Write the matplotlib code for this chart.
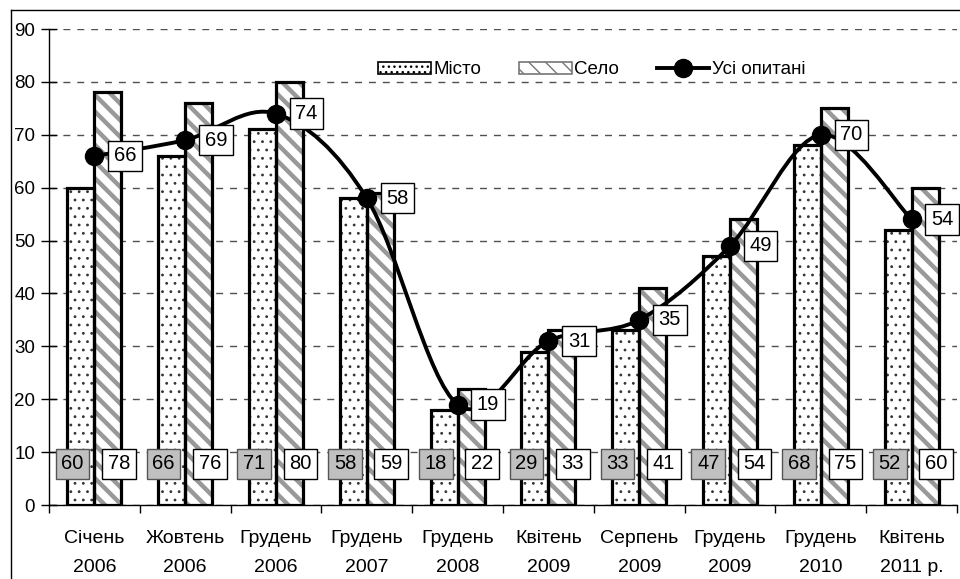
import numpy as np
import matplotlib
matplotlib.use("Agg")
from matplotlib import pyplot as plt
from matplotlib.path import Path
from matplotlib.patches import PathPatch, Patch
from matplotlib.lines import Line2D

plt.rcParams['font.family'] = ['Liberation Sans', 'DejaVu Sans']

# data
categories = ['Січень\n2006', 'Жовтень\n2006', 'Грудень\n2006', 'Грудень\n2007',
              'Грудень\n2008', 'Квітень\n2009', 'Серпень\n2009', 'Грудень\n2009',
              'Грудень\n2010', 'Квітень\n2011 р.']
misto = [60, 66, 71, 58, 18, 29, 33, 47, 68, 52]
selo = [78, 76, 80, 59, 22, 33, 41, 54, 75, 60]
usi = [66, 69, 74, 58, 19, 31, 35, 49, 70, 54]
y_ticks = list(range(0, 100, 10))


def smooth_path(xs, ys):
    """Bezier path through the points, catmull-rom style control points."""
    pts = np.column_stack([xs, ys]).astype(float)
    verts = [pts[0]]
    codes = [Path.MOVETO]
    n = len(pts)
    for i in range(n - 1):
        p0 = pts[i - 1] if i > 0 else pts[i]
        p1, p2 = pts[i], pts[i + 1]
        p3 = pts[i + 2] if i + 2 < n else pts[i + 1]
        c1 = p1 + (p2 - p0) / 6
        c2 = p2 - (p3 - p1) / 6
        verts += [c1, c2, p2]
        codes += [Path.CURVE4] * 3
    return Path(verts, codes)


def hatched_bars(ax, x, h, width, hatch, hcolor, hlw):
    with plt.rc_context({'hatch.linewidth': hlw}):
        bars = ax.bar(x, h, width=width, align='edge', color='white', edgecolor=hcolor,
                      hatch=hatch, lw=0, zorder=2)
    for b in bars:
        if hasattr(b, 'set_hatch_linewidth'):
            b.set_hatch_linewidth(hlw)
    ax.bar(x, h, width=width, align='edge', fill=False, edgecolor='black', lw=2.3, zorder=3)


fig = plt.figure(figsize=(9.6, 5.79), dpi=100)
ax = fig.add_axes([49 / 960, 1 - 505 / 579, 908 / 960, 476 / 579])

x = np.arange(len(categories))
w = 0.297

ax.set_axisbelow(True)
ax.yaxis.grid(True, color='#505050', lw=1, linestyle=(0, (5, 5)))

hatched_bars(ax, x, misto, -w, '..', '#333333', 0.8)
hatched_bars(ax, x, selo, w, '\\\\', '#999999', 3.2)

# smooth line for all respondents
ax.add_patch(PathPatch(smooth_path(x, usi), fill=False, edgecolor='black', lw=2.8, zorder=4))
ax.plot(x, usi, 'o', color='black', ms=13, zorder=5)

box_w = dict(boxstyle='square,pad=0.28', fc='white', ec='black', lw=1)
box_g = dict(boxstyle='square,pad=0.28', fc='#c0c0c0', ec='#555555', lw=1)
for i in range(len(categories)):
    ax.annotate(str(usi[i]), (x[i], usi[i]), xytext=(22, 0), textcoords='offset points',
                ha='center', va='center', fontsize=14.5, bbox=box_w, zorder=6)
    ax.annotate(str(misto[i]), (x[i] - 0.24, 7.8), ha='center', va='center',
                fontsize=14.5, bbox=box_g, zorder=6)
    ax.annotate(str(selo[i]), (x[i] + 0.27, 7.8), ha='center', va='center',
                fontsize=14.5, bbox=box_w, zorder=6)

ax.set_xlim(-0.5, len(categories) - 0.5)
ax.set_ylim(0, 90)
ax.set_yticks(y_ticks)
ax.set_yticklabels([str(v) for v in y_ticks], fontsize=13.5)
ax.set_xticks(np.arange(len(categories) + 1) - 0.5)
ax.set_xticklabels([])
ax.set_xticks(x, minor=True)
ax.set_xticklabels(categories, minor=True, fontsize=14, linespacing=1.95)
ax.tick_params(axis='x', which='major', length=6, width=1, direction='out')
ax.tick_params(axis='x', which='minor', length=0, pad=18)
ax.tick_params(axis='y', length=12, width=1, direction='inout', pad=4)
for s in ['top', 'right']:
    ax.spines[s].set_visible(False)
ax.spines['left'].set_linewidth(1)
ax.spines['bottom'].set_linewidth(1)

# legend
h1 = Patch(facecolor='white', edgecolor='black', hatch='...', lw=1.2)
h2 = Patch(facecolor='white', edgecolor='#777777', hatch='\\\\', lw=1.2)
h3 = Line2D([], [], color='black', lw=2.8, marker='o', ms=13)
ax.legend([h1, h2, h3], ['Місто', 'Село', 'Усі опитані'], ncol=3, frameon=False,
          loc='center', bbox_to_anchor=((592 - 49) / 908, 1 - (70 - 29) / 476),
          fontsize=13.5, handlelength=2.8, handleheight=0.6, handletextpad=0.15,
          columnspacing=2.0)

# outer frame (left and top visible)
fig.add_artist(Line2D([11 / 960, 11 / 960], [0, 1 - 10 / 579], color='black', lw=1))
fig.add_artist(Line2D([11 / 960, 1], [1 - 10 / 579, 1 - 10 / 579], color='black', lw=1))

fig.savefig('out.png', dpi=100)
